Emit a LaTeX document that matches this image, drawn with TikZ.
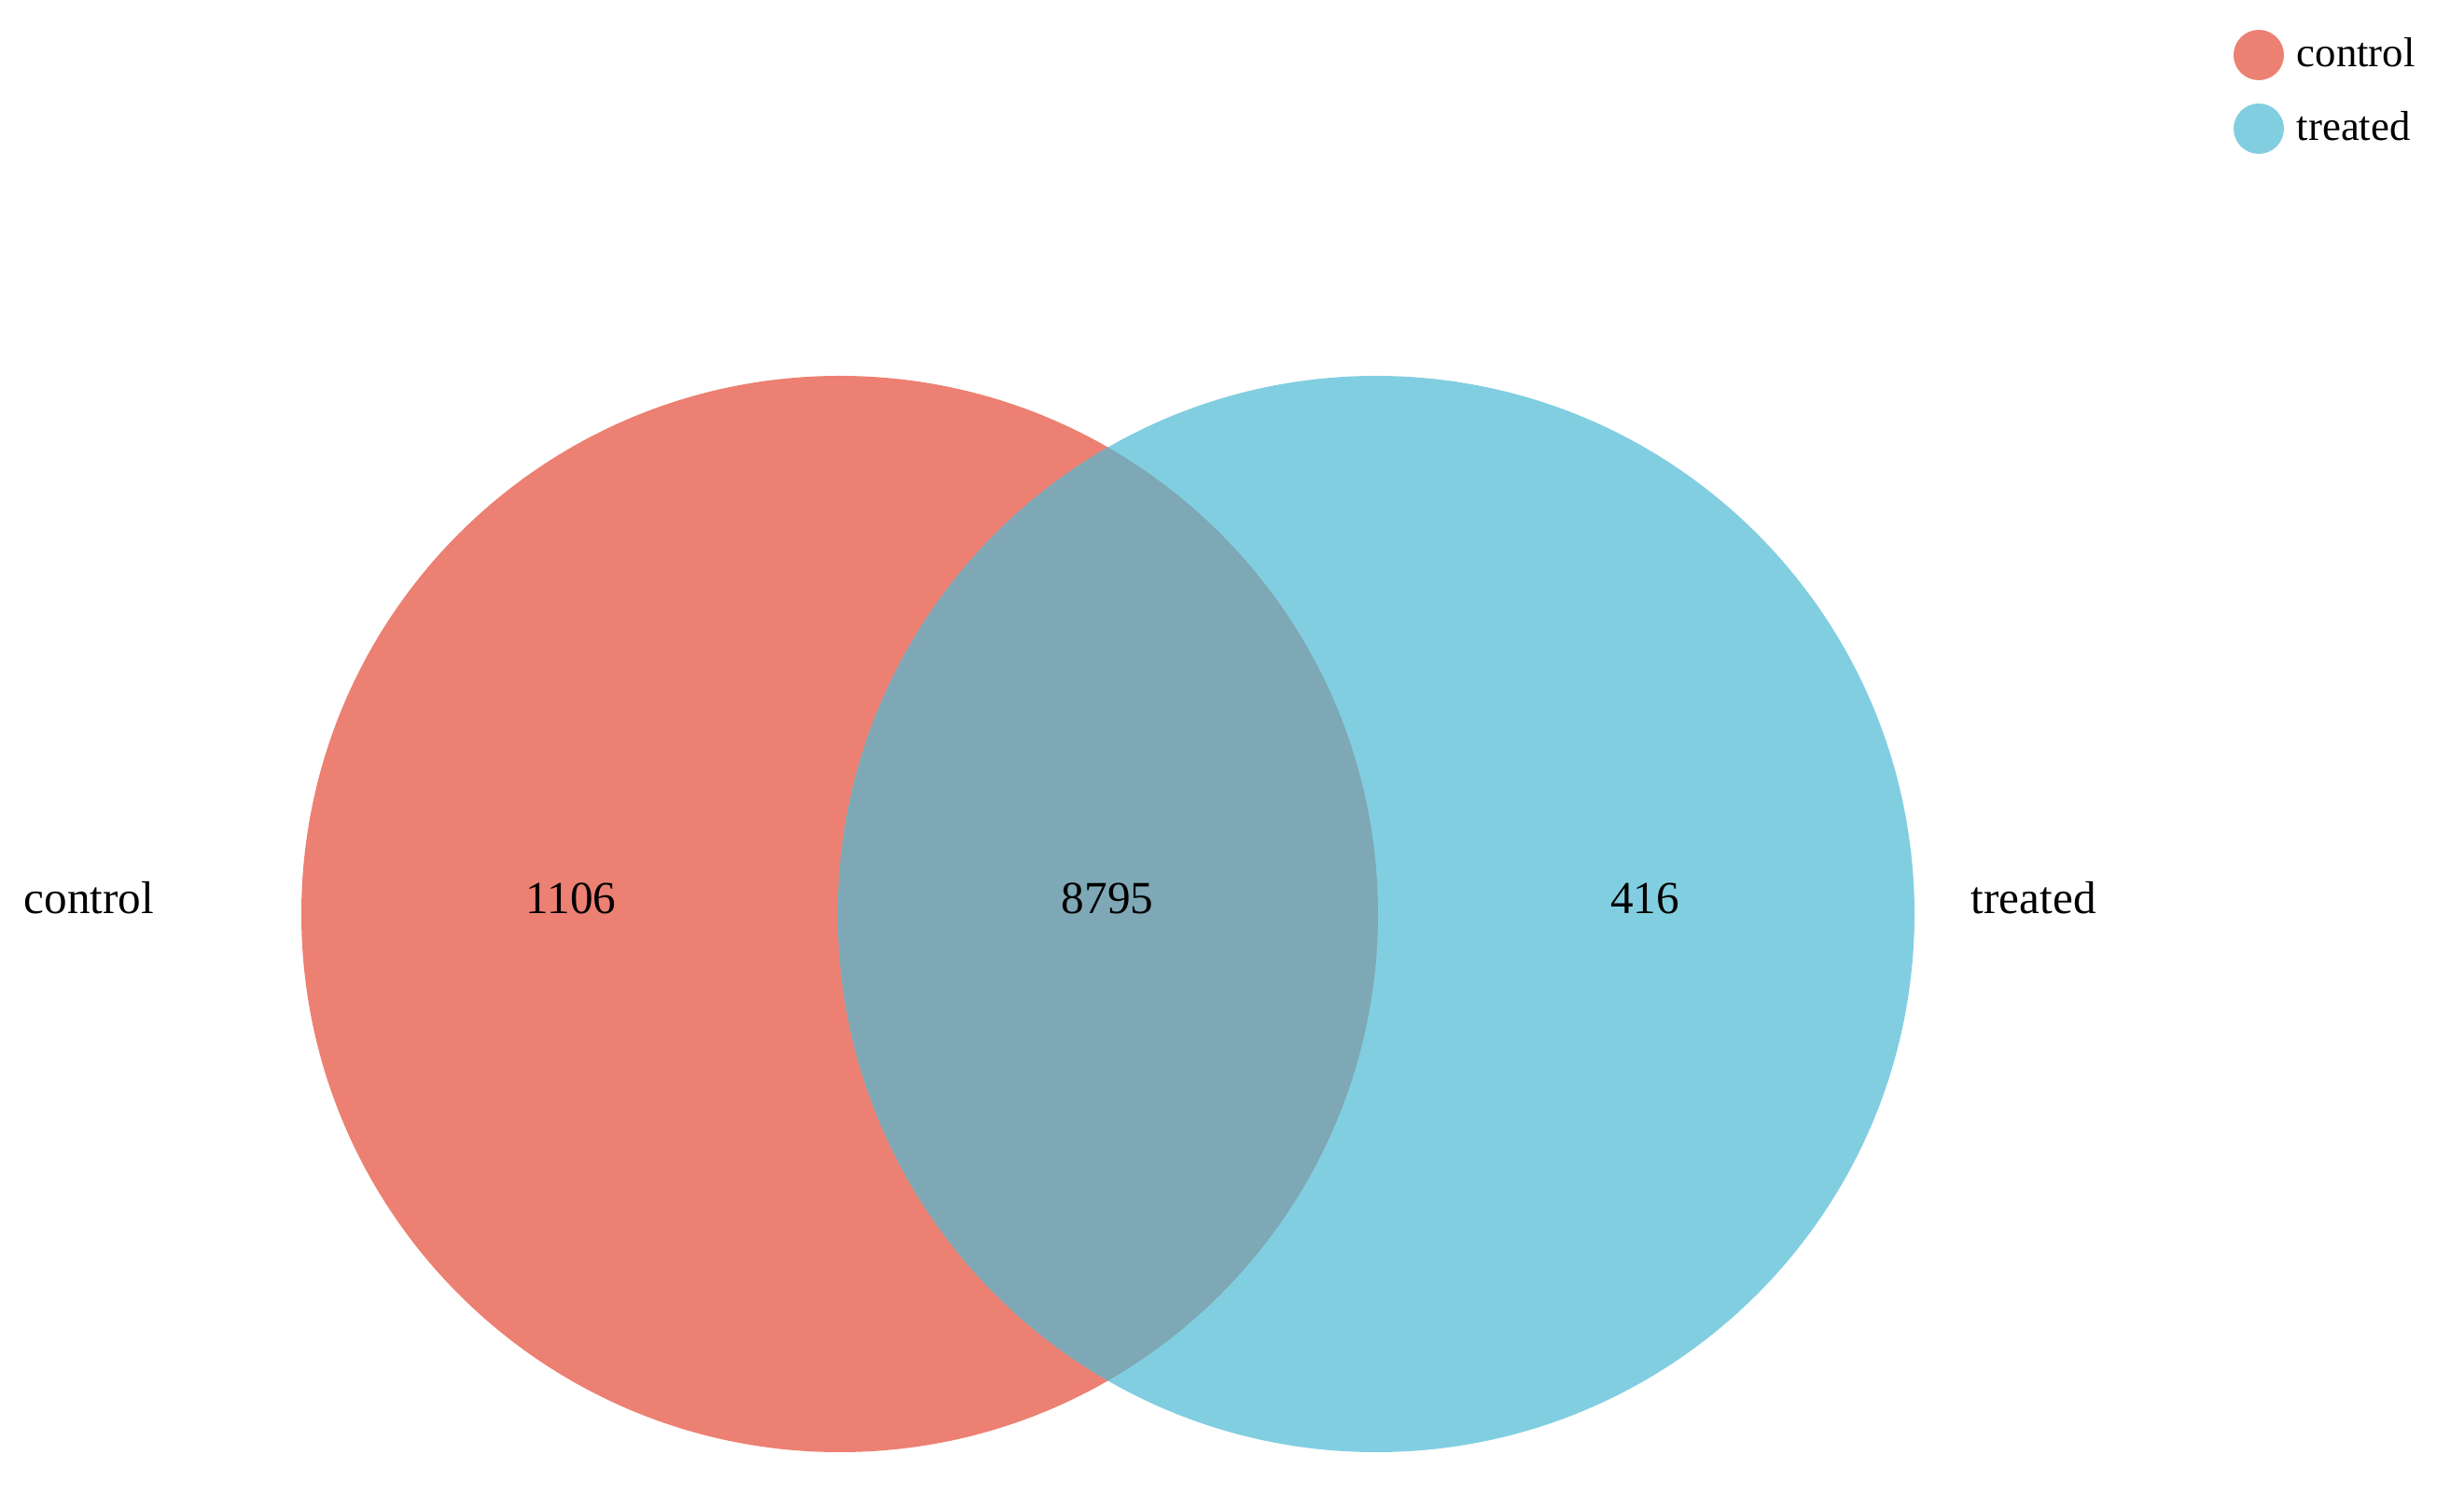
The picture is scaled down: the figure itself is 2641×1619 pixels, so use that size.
\documentclass[tikz,border=0pt]{standalone}
\usepackage{fontspec}
\setmainfont{Liberation Serif}
\usetikzlibrary{positioning}
\definecolor{ctrlred}{RGB}{236,128,114}
\definecolor{trtblue}{RGB}{130,206,225}
\definecolor{bothgray}{RGB}{126,168,181}
\begin{document}
\begin{tikzpicture}[x=0.01cm,y=-0.01cm,
  lab/.style={font=\fontsize{14}{16}\selectfont,inner sep=0pt,anchor=base},
  side/.style={lab,anchor=base west},
  leg/.style={font=\fontsize{12.75}{15}\selectfont,inner sep=0pt,anchor=base west}]
\useasboundingbox (0,0) rectangle (2641,1619);
\def\rad{577}
\coordinate (cL) at (900,980);
\coordinate (cR) at (1475,980);
% the two sets and their overlap
\fill[ctrlred] (cL) circle[radius=\rad];
\fill[trtblue] (cR) circle[radius=\rad];
\begin{scope}
  \clip (cL) circle[radius=\rad];
  \fill[bothgray] (cR) circle[radius=\rad];
\end{scope}
\node[lab] (onlyctrl) at (612,980) {1106};
\node[lab] (both) at (1187,980) {8795};
\node[lab] (onlytrt) at (1763,980) {416};
\node[side] (namectrl) at (25,980) {control};
\node[side] (nametrt) at (2112,980) {treated};
% legend
\foreach \col/\nm/\yy in {ctrlred/control/59,trtblue/treated/138}{
  \fill[\col] (2421,\yy) circle[radius=27];
  \node[leg] (leg\nm) at (2461,\yy+13) {\nm};
}
\end{tikzpicture}
\end{document}
